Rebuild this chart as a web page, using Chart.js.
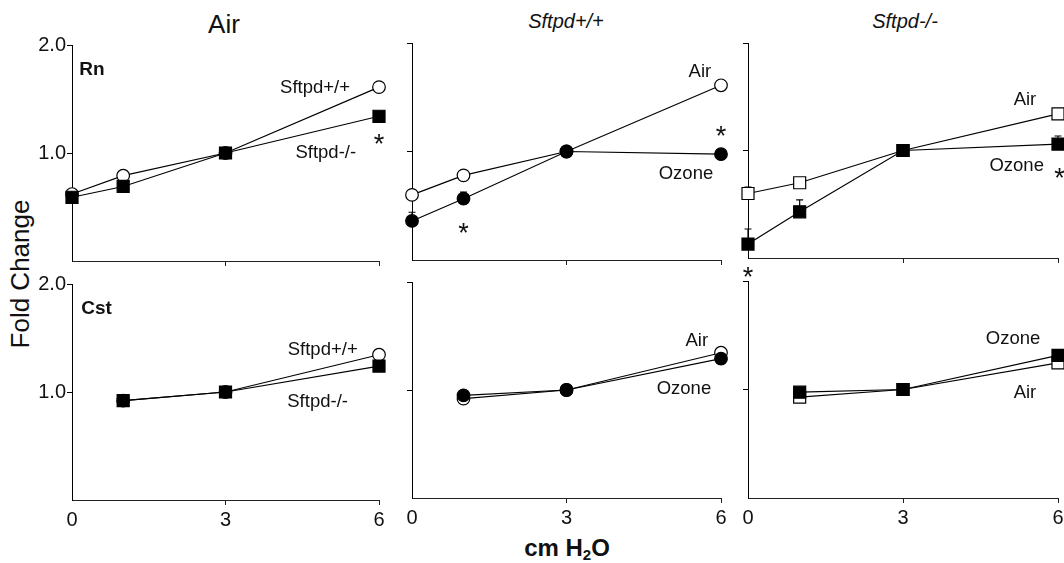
<!DOCTYPE html>
<html><head><meta charset="utf-8">
<script src="https://cdn.jsdelivr.net/npm/chart.js@4.4.1/dist/chart.umd.min.js"></script>
<style>
html,body{margin:0;padding:0;background:#fff;width:1064px;height:563px;overflow:hidden;position:relative;font-family:'Liberation Sans',Arial,sans-serif;}
canvas{position:absolute;}
.t{position:absolute;color:#111;white-space:nowrap;line-height:1;transform:translate(-50%,-50%);}
</style></head><body>
<div class="t" style="left:224px;top:24px;font-size:26px;">Air</div>
<div class="t" style="left:566px;top:21px;font-size:20px;font-style:italic;">Sftpd+/+</div>
<div class="t" style="left:905px;top:21px;font-size:20px;font-style:italic;">Sftpd-/-</div>
<div class="t" style="left:20px;top:274px;font-size:26px;transform:translate(-50%,-50%) rotate(-90deg);">Fold Change</div>
<div class="t" style="left:567px;top:549px;font-size:24px;font-weight:bold;">cm H<sub style="font-size:15px;vertical-align:-4px;">2</sub>O</div>
<script>
// ---- data ----
const pressureRn = [0, 1, 3, 6];
const pressureCst = [1, 3, 6];
const xTickValues = [0, 3, 6];
const yTickValues = [1.0, 2.0];

// Rn, Air exposure
const rnAir_WT = [0.62, 0.79, 1.0, 1.61];
const rnAir_KO = [0.59, 0.69, 1.0, 1.34];
// Rn, Sftpd+/+
const rnWT_Air = [0.60, 0.78, 1.0, 1.61];
const rnWT_Ozone = [0.36, 0.565, 1.0, 0.975];
const rnWT_OzoneErr = [0.08, 0.06, 0, 0];
// Rn, Sftpd-/-
const rnKO_Air = [0.60, 0.70, 1.0, 1.34];
const rnKO_AirErr = [0.06, 0, 0, 0];
const rnKO_Ozone = [0.13, 0.43, 1.0, 1.06];
const rnKO_OzoneErr = [0.14, 0.11, 0, 0.075];
// Cst
const cstAir_WT = [0.92, 1.0, 1.345];
const cstAir_KO = [0.92, 1.0, 1.24];
const cstWT_Air = [0.92, 1.0, 1.345];
const cstWT_Ozone = [0.95, 1.0, 1.29];
const cstKO_Air = [0.93, 1.0, 1.245];
const cstKO_Ozone = [0.975, 1.0, 1.315];

// ---- helpers ----
Chart.defaults.font.family = "'Liberation Sans', Arial, sans-serif";
Chart.defaults.color = '#111';

function pts(xs, ys){ return xs.map((x,i)=>({x:x, y:ys[i]})); }
function series(xs, ys, shape, filled, err){
  return {
    data: pts(xs, ys), err: err || null,
    showLine: true, borderColor: '#000', borderWidth: 1.2,
    pointStyle: shape, pointRadius: shape === 'rect' ? 8.5 : 6.3, pointHoverRadius: shape === 'rect' ? 8.5 : 6.3,
    pointBackgroundColor: filled ? '#000' : '#fff', pointBorderColor: '#000', pointBorderWidth: 1.2,
    clip: false
  };
}

const annot = {
  id: 'annot',
  beforeDatasetsDraw(chart){
    const ctx = chart.ctx, xs = chart.scales.x, ys = chart.scales.y;
    chart.data.datasets.forEach(ds=>{
      if(!ds.err) return;
      ds.data.forEach((p,i)=>{
        const e = ds.err[i]; if(!e) return;
        const px = xs.getPixelForValue(p.x), y0 = ys.getPixelForValue(p.y), y1 = ys.getPixelForValue(p.y + e);
        ctx.save(); ctx.strokeStyle = '#000'; ctx.lineWidth = 1.2;
        ctx.beginPath(); ctx.moveTo(px, y0); ctx.lineTo(px, y1);
        ctx.moveTo(px - 3.5, y1); ctx.lineTo(px + 3.5, y1); ctx.stroke(); ctx.restore();
      });
    });
  },
  afterDatasetsDraw(chart, args, opts){
    const ctx = chart.ctx, xs = chart.scales.x, ys = chart.scales.y;
    (opts.items || []).forEach(it=>{
      const px = xs.getPixelForValue(it.x), py = ys.getPixelForValue(it.y);
      ctx.save(); ctx.fillStyle = '#111';
      if(it.star){
        ctx.font = "27px 'Liberation Sans', Arial, sans-serif";
        ctx.textAlign = 'center'; ctx.textBaseline = 'alphabetic';
        ctx.fillText('*', px, py + 15);
      } else {
        ctx.font = (it.bold ? 'bold 19px ' : '18.5px ') + "'Liberation Sans', Arial, sans-serif";
        ctx.textAlign = it.align || 'center'; ctx.textBaseline = 'middle';
        ctx.fillText(it.text, px, py);
      }
      ctx.restore();
    });
  }
};

const PAD_L = 60, PAD_T = 15, PAD_R = 15, PAD_B = 35;

function makePanel(g, datasets, items, showY, showX){
  const cv = document.createElement('canvas');
  const w = g.R - g.L + PAD_L + PAD_R, h = g.B - g.T + PAD_T + PAD_B;
  cv.width = w; cv.height = h;
  cv.style.left = (g.L - PAD_L) + 'px'; cv.style.top = (g.T - PAD_T) + 'px';
  cv.style.width = w + 'px'; cv.style.height = h + 'px';
  document.body.appendChild(cv);
  new Chart(cv, {
    type: 'scatter',
    data: { datasets: datasets },
    options: {
      responsive: false, animation: false, devicePixelRatio: 1,
      layout: { padding: { top: PAD_T, right: PAD_R, left: 0, bottom: 0 } },
      plugins: { legend: {display:false}, tooltip: {enabled:false}, annot: { items: items } },
      scales: {
        x: {
          type: 'linear', min: 0, max: 6,
          afterFit: s => { s.height = PAD_B; },
          afterBuildTicks: s => { s.ticks = xTickValues.map(v=>({value:v})); },
          ticks: { display: showX, padding: 3, font: {size: 20}, color: '#111', callback: v => String(v) },
          grid: { drawOnChartArea: false, drawTicks: true, tickLength: 5,
                  color: c => (c.tick && c.tick.value === 0) ? 'rgba(0,0,0,0)' : '#222', lineWidth: 1 },
          border: { display: true, color: '#222', width: 1 }
        },
        y: {
          type: 'linear', min: 0, max: 2,
          afterFit: s => { s.width = PAD_L; },
          afterBuildTicks: s => { s.ticks = [0].concat(yTickValues).map(v=>({value:v})); },
          ticks: { display: showY, padding: 1, font: {size: 20}, color: '#111',
                   callback: v => v === 0 ? '' : v.toFixed(1) },
          grid: { drawOnChartArea: false, drawTicks: true, tickLength: 5,
                  color: c => (c.tick && c.tick.value === 0) ? 'rgba(0,0,0,0)' : '#000', lineWidth: 1 },
          border: { display: true, color: '#000', width: 1 }
        }
      }
    },
    plugins: [annot]
  });
}

// Row 1: Rn
makePanel({L:72,R:379,T:45,B:261},
  [series(pressureRn, rnAir_KO, 'rect', true), series(pressureRn, rnAir_WT, 'circle', false)],
  [{text:'Rn', x:0.14, y:1.77, bold:true, align:'left'},
   {text:'Sftpd+/+', x:4.75, y:1.60},
   {text:'Sftpd-/-', x:4.96, y:1.00},
   {star:true, x:6, y:1.14}], true, false);

makePanel({L:412,R:721,T:43,B:260},
  [series(pressureRn, rnWT_Ozone, 'circle', true, rnWT_OzoneErr), series(pressureRn, rnWT_Air, 'circle', false)],
  [{text:'Air', x:5.59, y:1.73},
   {text:'Ozone', x:5.32, y:0.79},
   {star:true, x:6, y:1.20},
   {star:true, x:1, y:0.30}], false, false);

makePanel({L:748,R:1058,T:43,B:258},
  [series(pressureRn, rnKO_Ozone, 'rect', true, rnKO_OzoneErr), series(pressureRn, rnKO_Air, 'rect', false, rnKO_AirErr)],
  [{text:'Air', x:5.36, y:1.47},
   {text:'Ozone', x:5.20, y:0.86},
   {star:true, x:6.03, y:0.80},
   {star:true, x:0, y:-0.12}], false, false);

// Row 2: Cst
makePanel({L:72,R:379,T:284,B:500},
  [series(pressureCst, cstAir_KO, 'rect', true), series(pressureCst, cstAir_WT, 'circle', false)],
  [{text:'Cst', x:0.18, y:1.77, bold:true, align:'left'},
   {text:'Sftpd+/+', x:4.9, y:1.39},
   {text:'Sftpd-/-', x:4.8, y:0.91}], true, true);

makePanel({L:412,R:721,T:282,B:498},
  [series(pressureCst, cstWT_Ozone, 'circle', true), series(pressureCst, cstWT_Air, 'circle', false)],
  [{text:'Air', x:5.53, y:1.45},
   {text:'Ozone', x:5.28, y:1.01}], false, true);

makePanel({L:748,R:1058,T:281,B:498},
  [series(pressureCst, cstKO_Ozone, 'rect', true), series(pressureCst, cstKO_Air, 'rect', false)],
  [{text:'Ozone', x:5.13, y:1.47},
   {text:'Air', x:5.36, y:0.97}], false, true);
</script>
</body></html>
